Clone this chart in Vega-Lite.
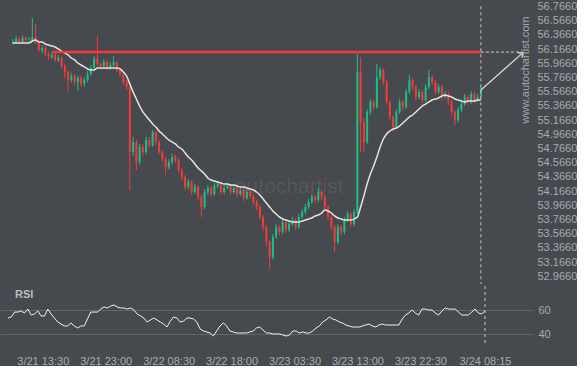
{
"$schema":"https://vega.github.io/schema/vega-lite/v6.json",
"background":"#46494e",
"padding":0,
"spacing":0,
"config":{"view":{"stroke":null},"font":"Liberation Sans","axis":{"ticks":false,"domain":false,"grid":false,"labelColor":"#a7aaaf","labelFontSize":11,"labelFont":"Liberation Sans","title":null,"labelOverlap":false}},
"datasets":{
"bars":[
{"t":"2019-03-21T08:15","o":56.25,"h":56.31,"l":56.225,"c":56.267,"ma":56.253,"r":53.3},
{"t":"2019-03-21T08:45","o":56.267,"h":56.352,"l":56.24,"c":56.31,"ma":56.253,"r":54.2},
{"t":"2019-03-21T09:15","o":56.31,"h":56.338,"l":56.239,"c":56.267,"ma":56.253,"r":58.3},
{"t":"2019-03-21T09:45","o":56.267,"h":56.366,"l":56.25,"c":56.324,"ma":56.253,"r":58.3},
{"t":"2019-03-21T10:15","o":56.324,"h":56.352,"l":56.267,"c":56.295,"ma":56.253,"r":59.2},
{"t":"2019-03-21T10:45","o":56.295,"h":56.34,"l":56.26,"c":56.3,"ma":56.253,"r":57.5},
{"t":"2019-03-21T11:15","o":56.3,"h":56.605,"l":56.28,"c":56.338,"ma":56.281,"r":60.8},
{"t":"2019-03-21T11:45","o":56.338,"h":56.521,"l":56.24,"c":56.267,"ma":56.295,"r":55.8},
{"t":"2019-03-21T12:15","o":56.267,"h":56.29,"l":56.126,"c":56.154,"ma":56.267,"r":56.7},
{"t":"2019-03-21T12:45","o":56.154,"h":56.225,"l":56.112,"c":56.183,"ma":56.267,"r":59.2},
{"t":"2019-03-21T13:15","o":56.183,"h":56.211,"l":56.07,"c":56.098,"ma":56.239,"r":55},
{"t":"2019-03-21T13:45","o":56.098,"h":56.126,"l":56.014,"c":56.056,"ma":56.225,"r":55},
{"t":"2019-03-21T14:15","o":56.056,"h":56.126,"l":56.028,"c":56.084,"ma":56.211,"r":60.8},
{"t":"2019-03-21T14:45","o":56.084,"h":56.112,"l":55.985,"c":56.014,"ma":56.197,"r":56.7},
{"t":"2019-03-21T15:15","o":56.014,"h":56.084,"l":55.985,"c":56.042,"ma":56.169,"r":53.3},
{"t":"2019-03-21T15:45","o":56.042,"h":56.07,"l":55.901,"c":55.929,"ma":56.14,"r":50},
{"t":"2019-03-21T16:15","o":55.929,"h":55.957,"l":55.76,"c":55.844,"ma":56.112,"r":48.3},
{"t":"2019-03-21T16:45","o":55.844,"h":55.873,"l":55.577,"c":55.732,"ma":56.084,"r":46.7},
{"t":"2019-03-21T17:15","o":55.732,"h":55.83,"l":55.7,"c":55.788,"ma":56.042,"r":46.7},
{"t":"2019-03-21T17:45","o":55.788,"h":55.816,"l":55.66,"c":55.703,"ma":56.014,"r":49.2},
{"t":"2019-03-21T18:15","o":55.703,"h":55.8,"l":55.577,"c":55.76,"ma":55.971,"r":46.7},
{"t":"2019-03-21T18:45","o":55.76,"h":55.788,"l":55.633,"c":55.675,"ma":55.943,"r":45},
{"t":"2019-03-21T19:15","o":55.675,"h":55.774,"l":55.64,"c":55.732,"ma":55.915,"r":46.7},
{"t":"2019-03-21T19:45","o":55.732,"h":55.858,"l":55.7,"c":55.816,"ma":55.887,"r":46.7},
{"t":"2019-03-21T20:15","o":55.816,"h":55.943,"l":55.79,"c":55.901,"ma":55.873,"r":52.5},
{"t":"2019-03-21T20:45","o":55.901,"h":56.07,"l":55.88,"c":56.028,"ma":55.873,"r":58.3},
{"t":"2019-03-21T21:15","o":56.028,"h":56.352,"l":55.929,"c":55.957,"ma":55.901,"r":58.3},
{"t":"2019-03-21T21:45","o":55.957,"h":55.985,"l":55.88,"c":55.929,"ma":55.901,"r":58.3},
{"t":"2019-03-21T22:15","o":55.929,"h":56.028,"l":55.901,"c":55.985,"ma":55.901,"r":60.8},
{"t":"2019-03-21T22:45","o":55.985,"h":56.014,"l":55.873,"c":55.901,"ma":55.901,"r":62.5},
{"t":"2019-03-21T23:15","o":55.901,"h":55.985,"l":55.873,"c":55.943,"ma":55.901,"r":61.7},
{"t":"2019-03-21T23:45","o":55.943,"h":56.07,"l":55.915,"c":55.985,"ma":55.901,"r":63.3},
{"t":"2019-03-22T00:15","o":55.985,"h":56.0,"l":55.844,"c":55.873,"ma":55.901,"r":64.2},
{"t":"2019-03-22T00:45","o":55.873,"h":55.901,"l":55.774,"c":55.816,"ma":55.887,"r":62.5},
{"t":"2019-03-22T01:15","o":55.816,"h":55.844,"l":55.66,"c":55.703,"ma":55.844,"r":61.7},
{"t":"2019-03-22T01:45","o":55.703,"h":55.732,"l":55.59,"c":55.633,"ma":55.788,"r":61.7},
{"t":"2019-03-22T02:15","o":55.633,"h":55.703,"l":54.181,"c":54.717,"ma":55.675,"r":60.8},
{"t":"2019-03-22T02:45","o":54.717,"h":54.928,"l":54.66,"c":54.858,"ma":55.563,"r":61.7},
{"t":"2019-03-22T03:15","o":54.858,"h":54.886,"l":54.463,"c":54.576,"ma":55.464,"r":60},
{"t":"2019-03-22T03:45","o":54.576,"h":54.83,"l":54.54,"c":54.787,"ma":55.365,"r":56.7},
{"t":"2019-03-22T04:15","o":54.787,"h":54.83,"l":54.66,"c":54.717,"ma":55.281,"r":55},
{"t":"2019-03-22T04:45","o":54.717,"h":54.928,"l":54.69,"c":54.886,"ma":55.224,"r":53.3},
{"t":"2019-03-22T05:15","o":54.886,"h":54.928,"l":54.77,"c":54.815,"ma":55.168,"r":50},
{"t":"2019-03-22T05:45","o":54.815,"h":55.027,"l":54.79,"c":54.999,"ma":55.112,"r":51.7},
{"t":"2019-03-22T06:15","o":54.999,"h":55.013,"l":54.815,"c":54.858,"ma":55.069,"r":53.3},
{"t":"2019-03-22T06:45","o":54.858,"h":54.886,"l":54.68,"c":54.717,"ma":55.013,"r":51.7},
{"t":"2019-03-22T07:15","o":54.717,"h":54.745,"l":54.58,"c":54.618,"ma":54.971,"r":50},
{"t":"2019-03-22T07:45","o":54.618,"h":54.646,"l":54.393,"c":54.506,"ma":54.928,"r":48.3},
{"t":"2019-03-22T08:15","o":54.506,"h":54.618,"l":54.47,"c":54.576,"ma":54.886,"r":45.8},
{"t":"2019-03-22T08:45","o":54.576,"h":54.69,"l":54.54,"c":54.646,"ma":54.858,"r":50.8},
{"t":"2019-03-22T09:15","o":54.646,"h":54.68,"l":54.56,"c":54.604,"ma":54.83,"r":54.2},
{"t":"2019-03-22T09:45","o":54.604,"h":54.632,"l":54.42,"c":54.463,"ma":54.787,"r":53.3},
{"t":"2019-03-22T10:15","o":54.463,"h":54.491,"l":54.32,"c":54.365,"ma":54.759,"r":50},
{"t":"2019-03-22T10:45","o":54.365,"h":54.393,"l":54.181,"c":54.224,"ma":54.703,"r":50.8},
{"t":"2019-03-22T11:15","o":54.224,"h":54.337,"l":54.195,"c":54.294,"ma":54.646,"r":53.3},
{"t":"2019-03-22T11:45","o":54.294,"h":54.322,"l":54.111,"c":54.153,"ma":54.604,"r":53.3},
{"t":"2019-03-22T12:15","o":54.153,"h":54.266,"l":54.125,"c":54.224,"ma":54.548,"r":52.5},
{"t":"2019-03-22T12:45","o":54.224,"h":54.252,"l":54.04,"c":54.083,"ma":54.491,"r":50},
{"t":"2019-03-22T13:15","o":54.083,"h":54.111,"l":53.801,"c":53.942,"ma":54.449,"r":44.2},
{"t":"2019-03-22T13:45","o":53.942,"h":54.195,"l":53.915,"c":54.153,"ma":54.407,"r":42.5},
{"t":"2019-03-22T14:15","o":54.153,"h":54.252,"l":54.111,"c":54.21,"ma":54.35,"r":41.7},
{"t":"2019-03-22T14:45","o":54.21,"h":54.238,"l":54.083,"c":54.125,"ma":54.322,"r":40.8},
{"t":"2019-03-22T15:15","o":54.125,"h":54.28,"l":54.097,"c":54.238,"ma":54.308,"r":38.3},
{"t":"2019-03-22T15:45","o":54.238,"h":54.308,"l":54.21,"c":54.266,"ma":54.294,"r":42.5},
{"t":"2019-03-22T16:15","o":54.266,"h":54.294,"l":54.111,"c":54.153,"ma":54.28,"r":46.7},
{"t":"2019-03-22T16:45","o":54.153,"h":54.252,"l":54.125,"c":54.21,"ma":54.266,"r":49.2},
{"t":"2019-03-22T17:15","o":54.21,"h":54.28,"l":54.181,"c":54.238,"ma":54.266,"r":46.7},
{"t":"2019-03-22T17:45","o":54.238,"h":54.266,"l":54.111,"c":54.153,"ma":54.252,"r":42.5},
{"t":"2019-03-22T18:15","o":54.153,"h":54.252,"l":54.125,"c":54.21,"ma":54.252,"r":41.7},
{"t":"2019-03-22T18:45","o":54.21,"h":54.238,"l":54.083,"c":54.125,"ma":54.238,"r":40.8},
{"t":"2019-03-22T19:15","o":54.125,"h":54.224,"l":54.097,"c":54.181,"ma":54.224,"r":40.8},
{"t":"2019-03-22T19:45","o":54.181,"h":54.21,"l":54.026,"c":54.069,"ma":54.224,"r":40.8},
{"t":"2019-03-22T20:15","o":54.069,"h":54.195,"l":54.04,"c":54.153,"ma":54.21,"r":40.8},
{"t":"2019-03-22T20:45","o":54.153,"h":54.181,"l":54.054,"c":54.097,"ma":54.195,"r":41.7},
{"t":"2019-03-22T21:15","o":54.097,"h":54.125,"l":53.97,"c":54.012,"ma":54.181,"r":42.5},
{"t":"2019-03-22T21:45","o":54.012,"h":54.04,"l":53.899,"c":53.942,"ma":54.153,"r":45},
{"t":"2019-03-22T22:15","o":53.942,"h":53.97,"l":53.758,"c":53.801,"ma":54.111,"r":45.8},
{"t":"2019-03-22T22:45","o":53.801,"h":53.829,"l":53.6,"c":53.66,"ma":54.054,"r":43.3},
{"t":"2019-03-22T23:15","o":53.66,"h":53.688,"l":53.38,"c":53.449,"ma":53.998,"r":40.8},
{"t":"2019-03-22T23:45","o":53.449,"h":53.477,"l":53.068,"c":53.237,"ma":53.942,"r":40.8},
{"t":"2019-03-23T00:15","o":53.237,"h":53.56,"l":53.2,"c":53.519,"ma":53.885,"r":40},
{"t":"2019-03-23T00:45","o":53.519,"h":53.702,"l":53.49,"c":53.66,"ma":53.843,"r":40},
{"t":"2019-03-23T01:15","o":53.66,"h":53.688,"l":53.54,"c":53.589,"ma":53.801,"r":40},
{"t":"2019-03-23T01:45","o":53.589,"h":53.772,"l":53.56,"c":53.73,"ma":53.773,"r":39.2},
{"t":"2019-03-23T02:15","o":53.73,"h":53.758,"l":53.575,"c":53.618,"ma":53.758,"r":38.3},
{"t":"2019-03-23T02:45","o":53.618,"h":53.744,"l":53.59,"c":53.702,"ma":53.744,"r":39.2},
{"t":"2019-03-23T03:15","o":53.702,"h":53.8,"l":53.673,"c":53.758,"ma":53.73,"r":42.5},
{"t":"2019-03-23T03:45","o":53.758,"h":53.786,"l":53.617,"c":53.66,"ma":53.73,"r":42.5},
{"t":"2019-03-23T04:15","o":53.66,"h":53.843,"l":53.632,"c":53.801,"ma":53.73,"r":40.8},
{"t":"2019-03-23T04:45","o":53.801,"h":53.913,"l":53.773,"c":53.871,"ma":53.744,"r":41.7},
{"t":"2019-03-23T05:15","o":53.871,"h":53.984,"l":53.843,"c":53.942,"ma":53.758,"r":40.8},
{"t":"2019-03-23T05:45","o":53.942,"h":54.054,"l":53.913,"c":54.012,"ma":53.773,"r":40.8},
{"t":"2019-03-23T06:15","o":54.012,"h":54.125,"l":53.984,"c":54.083,"ma":53.787,"r":42.5},
{"t":"2019-03-23T06:45","o":54.083,"h":54.111,"l":54.0,"c":54.04,"ma":53.815,"r":45},
{"t":"2019-03-23T07:15","o":54.04,"h":54.21,"l":54.012,"c":54.153,"ma":53.829,"r":46.7},
{"t":"2019-03-23T07:45","o":54.153,"h":54.181,"l":54.04,"c":54.083,"ma":53.857,"r":50},
{"t":"2019-03-23T08:15","o":54.083,"h":54.111,"l":53.9,"c":53.942,"ma":53.899,"r":51.7},
{"t":"2019-03-23T08:45","o":53.942,"h":53.97,"l":53.758,"c":53.801,"ma":53.885,"r":54.2},
{"t":"2019-03-23T09:15","o":53.801,"h":53.829,"l":53.617,"c":53.66,"ma":53.857,"r":52.5},
{"t":"2019-03-23T09:45","o":53.66,"h":53.688,"l":53.308,"c":53.449,"ma":53.815,"r":51.7},
{"t":"2019-03-23T10:15","o":53.449,"h":53.702,"l":53.42,"c":53.66,"ma":53.787,"r":50},
{"t":"2019-03-23T10:45","o":53.66,"h":53.688,"l":53.547,"c":53.589,"ma":53.773,"r":49.2},
{"t":"2019-03-23T11:15","o":53.589,"h":53.8,"l":53.56,"c":53.758,"ma":53.758,"r":47.5},
{"t":"2019-03-23T11:45","o":53.758,"h":53.885,"l":53.73,"c":53.843,"ma":53.758,"r":46.7},
{"t":"2019-03-23T12:15","o":53.843,"h":53.871,"l":53.66,"c":53.702,"ma":53.758,"r":45.8},
{"t":"2019-03-23T12:45","o":53.702,"h":53.913,"l":53.673,"c":53.871,"ma":53.773,"r":45.8},
{"t":"2019-03-23T13:15","o":53.871,"h":56.098,"l":53.843,"c":55.844,"ma":53.801,"r":45.8},
{"t":"2019-03-23T13:45","o":55.844,"h":56.056,"l":54.717,"c":55.14,"ma":53.942,"r":46.7},
{"t":"2019-03-23T14:15","o":55.14,"h":55.196,"l":54.717,"c":54.858,"ma":54.097,"r":47.5},
{"t":"2019-03-23T14:45","o":54.858,"h":55.323,"l":54.83,"c":55.281,"ma":54.266,"r":48.3},
{"t":"2019-03-23T15:15","o":55.281,"h":55.464,"l":55.24,"c":55.422,"ma":54.407,"r":46.7},
{"t":"2019-03-23T15:45","o":55.422,"h":55.45,"l":55.309,"c":55.351,"ma":54.52,"r":45.8},
{"t":"2019-03-23T16:15","o":55.351,"h":55.957,"l":55.323,"c":55.774,"ma":54.646,"r":47.5},
{"t":"2019-03-23T16:45","o":55.774,"h":55.915,"l":55.732,"c":55.873,"ma":54.787,"r":48.3},
{"t":"2019-03-23T17:15","o":55.873,"h":55.901,"l":55.66,"c":55.703,"ma":54.9,"r":47.5},
{"t":"2019-03-23T17:45","o":55.703,"h":55.732,"l":55.38,"c":55.422,"ma":54.971,"r":47.5},
{"t":"2019-03-23T18:15","o":55.422,"h":55.45,"l":55.168,"c":55.21,"ma":55.013,"r":47.5},
{"t":"2019-03-23T18:45","o":55.21,"h":55.238,"l":54.999,"c":55.069,"ma":55.041,"r":47.5},
{"t":"2019-03-23T19:15","o":55.069,"h":55.323,"l":55.041,"c":55.281,"ma":55.055,"r":47.5},
{"t":"2019-03-23T19:45","o":55.281,"h":55.464,"l":55.253,"c":55.422,"ma":55.083,"r":52.5},
{"t":"2019-03-23T20:15","o":55.422,"h":55.45,"l":55.309,"c":55.351,"ma":55.126,"r":55.8},
{"t":"2019-03-23T20:45","o":55.351,"h":55.605,"l":55.323,"c":55.563,"ma":55.168,"r":57.5},
{"t":"2019-03-23T21:15","o":55.563,"h":55.802,"l":55.535,"c":55.732,"ma":55.21,"r":60},
{"t":"2019-03-23T21:45","o":55.732,"h":55.76,"l":55.59,"c":55.633,"ma":55.238,"r":57.5},
{"t":"2019-03-23T22:15","o":55.633,"h":55.661,"l":55.45,"c":55.492,"ma":55.281,"r":55.8},
{"t":"2019-03-23T22:45","o":55.492,"h":55.605,"l":55.464,"c":55.563,"ma":55.323,"r":60.8},
{"t":"2019-03-23T23:15","o":55.563,"h":55.591,"l":55.408,"c":55.45,"ma":55.365,"r":60.8},
{"t":"2019-03-23T23:45","o":55.45,"h":55.675,"l":55.422,"c":55.633,"ma":55.393,"r":60},
{"t":"2019-03-24T00:15","o":55.633,"h":55.873,"l":55.605,"c":55.774,"ma":55.422,"r":60},
{"t":"2019-03-24T00:45","o":55.774,"h":55.802,"l":55.66,"c":55.703,"ma":55.45,"r":57.5},
{"t":"2019-03-24T01:15","o":55.703,"h":55.731,"l":55.52,"c":55.563,"ma":55.464,"r":55.8},
{"t":"2019-03-24T01:45","o":55.563,"h":55.675,"l":55.535,"c":55.633,"ma":55.478,"r":59.2},
{"t":"2019-03-24T02:15","o":55.633,"h":55.661,"l":55.45,"c":55.492,"ma":55.506,"r":61.7},
{"t":"2019-03-24T02:45","o":55.492,"h":55.576,"l":55.464,"c":55.534,"ma":55.52,"r":60.8},
{"t":"2019-03-24T03:15","o":55.534,"h":55.562,"l":55.38,"c":55.422,"ma":55.506,"r":60.8},
{"t":"2019-03-24T03:45","o":55.422,"h":55.45,"l":55.239,"c":55.281,"ma":55.492,"r":60.8},
{"t":"2019-03-24T04:15","o":55.281,"h":55.309,"l":55.098,"c":55.168,"ma":55.464,"r":58.3},
{"t":"2019-03-24T04:45","o":55.168,"h":55.351,"l":55.14,"c":55.309,"ma":55.45,"r":55.8},
{"t":"2019-03-24T05:15","o":55.309,"h":55.435,"l":55.281,"c":55.393,"ma":55.436,"r":55.8},
{"t":"2019-03-24T05:45","o":55.393,"h":55.534,"l":55.365,"c":55.492,"ma":55.422,"r":55.8},
{"t":"2019-03-24T06:15","o":55.492,"h":55.52,"l":55.38,"c":55.422,"ma":55.436,"r":58.3},
{"t":"2019-03-24T06:45","o":55.422,"h":55.576,"l":55.394,"c":55.534,"ma":55.436,"r":60.8},
{"t":"2019-03-24T07:15","o":55.534,"h":55.562,"l":55.408,"c":55.45,"ma":55.436,"r":57.5},
{"t":"2019-03-24T07:45","o":55.45,"h":55.534,"l":55.422,"c":55.492,"ma":55.45,"r":56.7},
{"t":"2019-03-24T08:15","o":55.492,"h":55.633,"l":55.464,"c":55.591,"ma":55.45,"r":59.2}
],
"level":[{"t1":"2019-03-21T14:20","t2":"2019-03-24T08:15","t3":"2019-03-24T14:44","p":56.125}],
"arrow":[{"t":"2019-03-24T08:15","p":55.591},{"t":"2019-03-24T14:44","p":56.118}],
"head":[{"t":"2019-03-24T14:44","p":56.118}],
"vline":[{"t":"2019-03-24T08:15","top":56.77,"bot":52.856}],
"wm":[{"t":"2019-03-24T15:11","p":55.873,"label":"www.autochartist.com"}],
"wm2":[{"t":"2019-03-23T11:07","p":54.224,"label":"autochartist"}],
"rsilab":[{"t":"2019-03-21T09:18","r":72.5,"label":"RSI"}]
},
"vconcat":[
{"width":533,"height":282,
"layer":[
{"data":{"name":"wm2"},"mark":{"type":"text","align":"right","baseline":"middle","fontSize":21,"color":"#54575c"},
 "encoding":{"x":{"field":"t","type":"temporal","axis":null,
   "scale":{"domain":[{"year":2019,"month":3,"date":21,"hours":7,"minutes":2,"seconds":30},{"year":2019,"month":3,"date":24,"hours":15,"minutes":30}]}},
  "y":{"field":"p","type":"quantitative","scale":{"domain":[52.856,56.831],"zero":false,"nice":false},
   "axis":{"orient":"right","values":[52.966,53.166,53.366,53.566,53.766,53.966,54.166,54.366,54.566,54.766,54.966,55.166,55.366,55.566,55.766,55.966,56.166,56.366,56.566,56.766],"tickCount":30,"format":".4f","labelPadding":4,"title":null,"labelOverlap":false,"labelBound":false}},
  "text":{"field":"label"}}},
{"data":{"name":"bars"},"mark":{"type":"rule","strokeWidth":1},
 "encoding":{"x":{"field":"t","type":"temporal","axis":null},"y":{"field":"l","type":"quantitative","axis":{"title":null,"labelOverlap":false,"tickCount":30}},"y2":{"field":"h"},
  "color":{"condition":{"test":"datum.c >= datum.o","value":"#1dbf87"},"value":"#f23c3c"}}},
{"data":{"name":"bars"},"mark":{"type":"bar","size":2},
 "encoding":{"x":{"field":"t","type":"temporal","axis":null},"y":{"field":"o","type":"quantitative","axis":{"title":null,"labelOverlap":false,"tickCount":30}},"y2":{"field":"c"},
  "color":{"condition":{"test":"datum.c >= datum.o","value":"#1dbf87"},"value":"#f23c3c"}}},
{"data":{"name":"bars"},"mark":{"type":"line","color":"#e4e4e4","strokeWidth":1.5,"interpolate":"monotone"},
 "encoding":{"x":{"field":"t","type":"temporal","axis":null},"y":{"field":"ma","type":"quantitative","axis":{"title":null,"labelOverlap":false,"tickCount":30}}}},
{"data":{"name":"level"},"mark":{"type":"rule","color":"#f03a3f","strokeWidth":2.5},
 "encoding":{"x":{"field":"t1","type":"temporal","axis":null},"x2":{"field":"t2"},"y":{"field":"p","type":"quantitative","axis":{"title":null,"labelOverlap":false,"tickCount":30}}}},
{"data":{"name":"level"},"mark":{"type":"rule","color":"#cfcfcf","strokeWidth":1,"strokeDash":[3,2]},
 "encoding":{"x":{"field":"t2","type":"temporal","axis":null},"x2":{"field":"t3"},"y":{"field":"p","type":"quantitative","axis":{"title":null,"labelOverlap":false,"tickCount":30}}}},
{"data":{"name":"vline"},"mark":{"type":"rule","color":"#c8c8c8","strokeWidth":1,"strokeDash":[3,3]},
 "encoding":{"x":{"field":"t","type":"temporal","axis":null},"y":{"field":"top","type":"quantitative","axis":{"title":null,"labelOverlap":false,"tickCount":30}},"y2":{"field":"bot"}}},
{"data":{"name":"arrow"},"mark":{"type":"line","color":"#dcdcdc","strokeWidth":1.2},
 "encoding":{"x":{"field":"t","type":"temporal","axis":null},"y":{"field":"p","type":"quantitative","axis":{"title":null,"labelOverlap":false,"tickCount":30}}}},
{"data":{"name":"head"},"mark":{"type":"point","shape":"M-1,-0.75L0,0L-1,0.75","size":70,"angle":319,"filled":false,"stroke":"#dcdcdc","strokeWidth":1.2,"opacity":1},
 "encoding":{"x":{"field":"t","type":"temporal","axis":null},"y":{"field":"p","type":"quantitative","axis":{"title":null,"labelOverlap":false,"tickCount":30}}}},
{"data":{"name":"wm"},"mark":{"type":"text","angle":270,"align":"center","baseline":"middle","fontSize":11,"color":"#a3a6ab"},
 "encoding":{"x":{"field":"t","type":"temporal","axis":null},"y":{"field":"p","type":"quantitative","axis":{"title":null,"labelOverlap":false,"tickCount":30}},"text":{"field":"label"}}}
]},
{"width":533,"height":60,
"layer":[
{"data":{"name":"bars"},"mark":{"type":"line","color":"#f2f2f2","strokeWidth":1},
 "encoding":{"x":{"field":"t","type":"temporal",
   "scale":{"domain":[{"year":2019,"month":3,"date":21,"hours":7,"minutes":2,"seconds":30},{"year":2019,"month":3,"date":24,"hours":15,"minutes":30}]},
   "axis":{"values":[{"year":2019,"month":3,"date":21,"hours":13,"minutes":30},{"year":2019,"month":3,"date":21,"hours":23,"minutes":0},{"year":2019,"month":3,"date":22,"hours":8,"minutes":30},{"year":2019,"month":3,"date":22,"hours":18,"minutes":0},{"year":2019,"month":3,"date":23,"hours":3,"minutes":30},{"year":2019,"month":3,"date":23,"hours":13,"minutes":0},{"year":2019,"month":3,"date":23,"hours":22,"minutes":30},{"year":2019,"month":3,"date":24,"hours":8,"minutes":15}],
    "format":"%-m/%d %H:%M","labelPadding":9,"labelColor":"#a9acb1","title":null,"labelFlush":false,"labelOverlap":false,"tickCount":20}},
  "y":{"field":"r","type":"quantitative","scale":{"domain":[30,80],"zero":false,"nice":false},
   "axis":{"orient":"right","values":[40,60],"tickCount":5,"format":"d","grid":true,"gridColor":"#62666a","gridWidth":1,"labelPadding":5,"title":null}}}},
{"data":{"name":"vline"},"mark":{"type":"rule","color":"#c8c8c8","strokeWidth":1,"strokeDash":[3,3]},
 "encoding":{"x":{"field":"t","type":"temporal","axis":{"title":null,"labelOverlap":false,"tickCount":20}}}},
{"data":{"name":"rsilab"},"mark":{"type":"text","align":"left","baseline":"middle","fontSize":11,"fontWeight":"bold","color":"#b9bcc1"},
 "encoding":{"x":{"field":"t","type":"temporal","axis":{"title":null,"labelOverlap":false,"tickCount":20}},"y":{"field":"r","type":"quantitative","axis":{"title":null,"tickCount":5}},"text":{"field":"label"}}}
]}
]
}
